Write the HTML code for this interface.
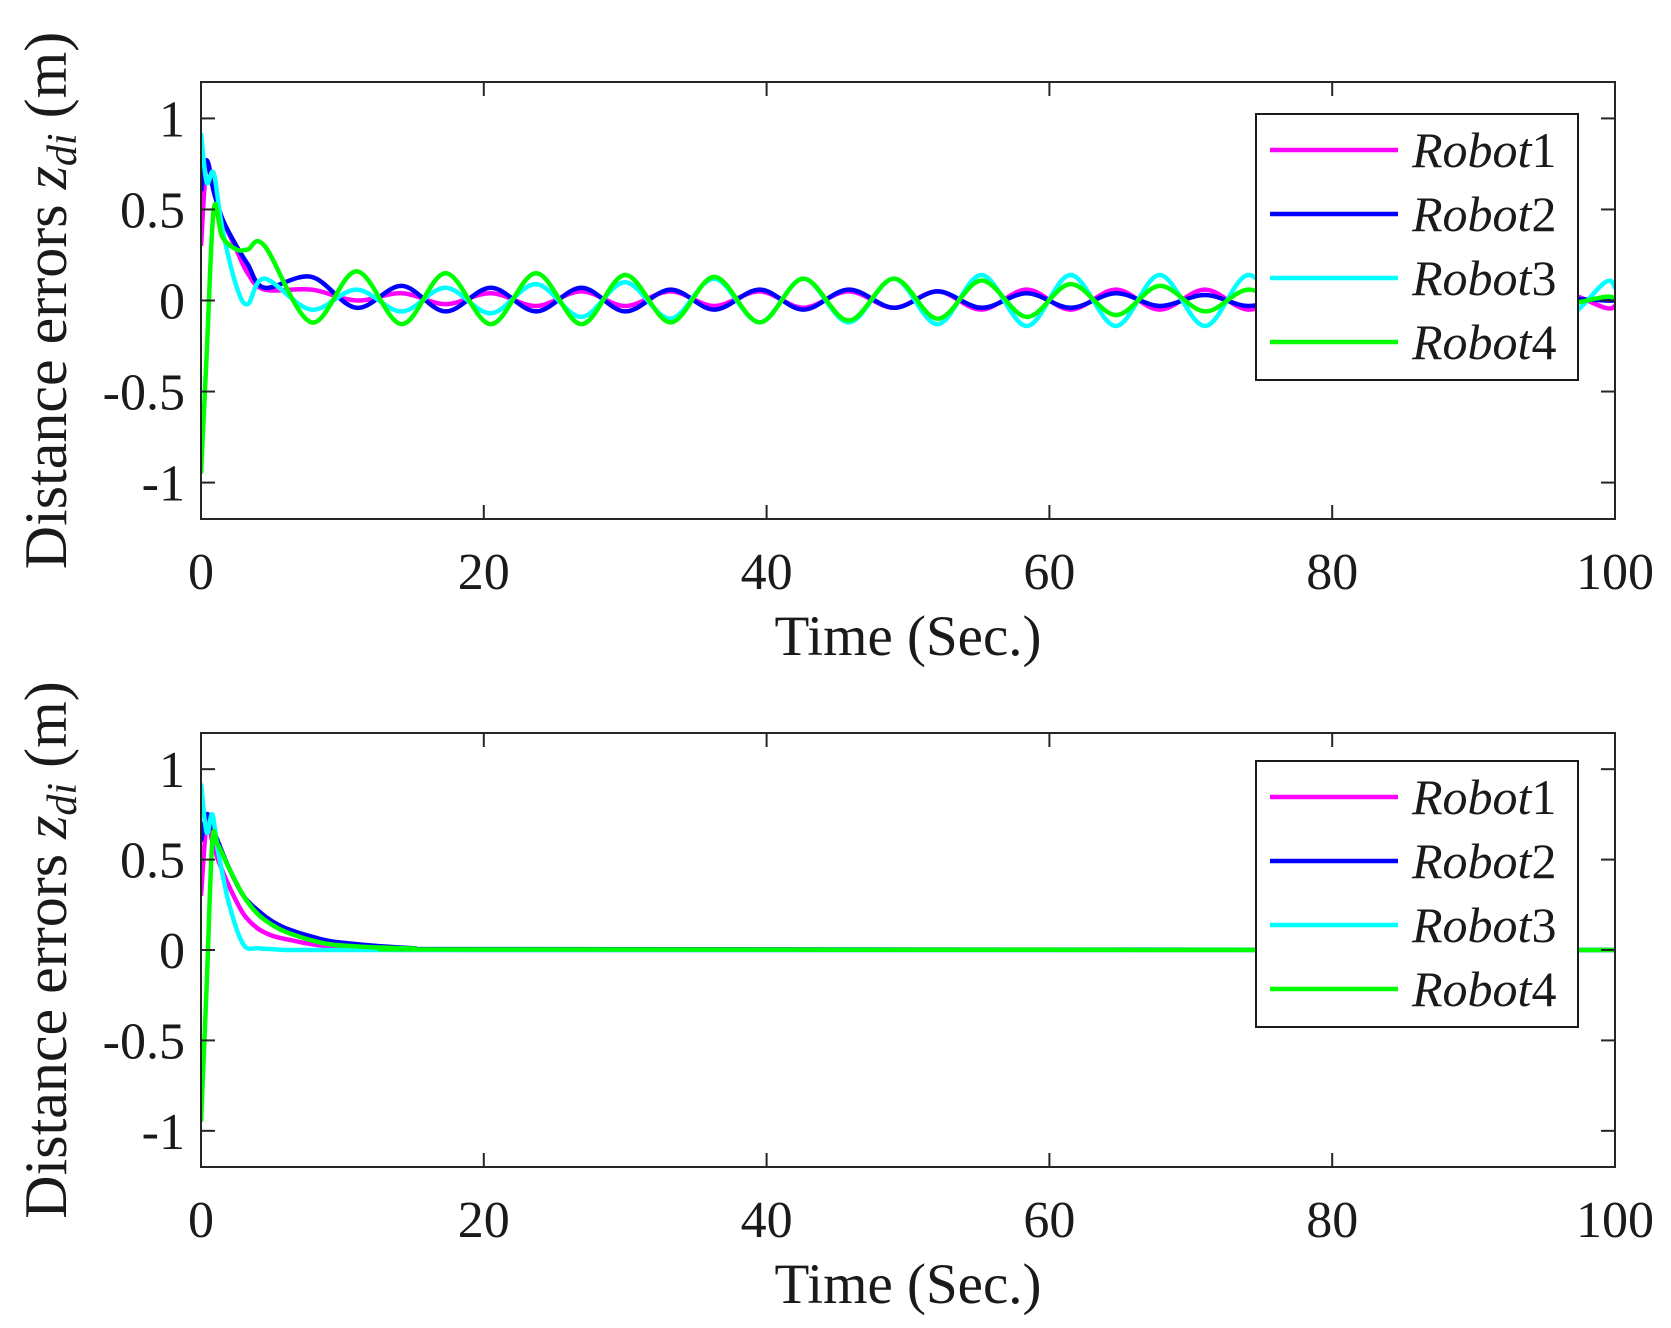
<!DOCTYPE html>
<html><head><meta charset="utf-8"><style>
body{margin:0;background:#fff}
svg{display:block}
text{font-family:"Liberation Serif",serif;fill:#1a1a1a}
</style></head><body>
<svg id="chart" width="1671" height="1328" viewBox="0 0 1671 1328"></svg>
<script>
// Shared data
const seriesNames = ["Robot1","Robot2","Robot3","Robot4"];
const seriesColors = ["#ff00ff","#0000ff","#00ffff","#00ff00"];
const xTicks = [0,20,40,60,80,100];
const yTicks = [-1,-0.5,0,0.5,1];
const yTickLabels = ["-1","-0.5","0","0.5","1"];

// Top panel: time samples (start + extrema)
const topTime = [0,0.4,0.9,1.5,2.5,3.3,4.5,7.8,11,14.2,17.3,20.5,23.7,26.9,30,33.2,36.3,39.5,42.6,45.8,49,52.1,55.2,58.4,61.5,64.7,67.8,71,74.1,77.3,80.4,83.6,86.7,89.9,93,96.2,99.3,100];
const topRobot1 = [0.3,0.75,0.6,0.45,0.28,0.15,0.06,0.06,0.0,0.04,-0.02,0.04,-0.03,0.05,-0.03,0.05,-0.03,0.05,-0.04,0.05,-0.04,0.05,-0.05,0.06,-0.05,0.06,-0.05,0.06,-0.05,0.05,-0.05,0.05,-0.05,0.05,-0.05,0.04,-0.04,-0.03];
const topRobot2 = [0.6,0.77,0.6,0.45,0.3,0.2,0.07,0.13,-0.04,0.08,-0.06,0.07,-0.06,0.07,-0.06,0.06,-0.05,0.06,-0.05,0.06,-0.04,0.05,-0.04,0.04,-0.04,0.04,-0.03,0.03,-0.03,0.03,-0.02,0.02,-0.02,0.02,-0.01,0.01,0,0];
const topRobot3 = [0.92,0.65,0.7,0.4,0.08,-0.02,0.12,-0.05,0.06,-0.06,0.07,-0.07,0.09,-0.09,0.1,-0.1,0.12,-0.12,0.12,-0.12,0.12,-0.13,0.14,-0.14,0.14,-0.14,0.14,-0.14,0.14,-0.13,0.13,-0.12,0.12,-0.11,0.11,-0.1,0.1,0.07];
const topRobot4 = [-0.95,-0.3,0.5,0.35,0.28,0.28,0.3,-0.12,0.16,-0.13,0.15,-0.13,0.15,-0.13,0.14,-0.12,0.13,-0.12,0.12,-0.11,0.12,-0.1,0.11,-0.09,0.09,-0.08,0.08,-0.06,0.06,-0.05,0.05,-0.04,0.04,-0.03,0.03,-0.02,0.02,0.01];

// Bottom panel
const botTime = [0,0.4,0.8,1.2,2,3,4,5,6,8,10,15,20,100];
const botRobot1 = [0.3,0.7,0.6,0.5,0.35,0.2,0.12,0.08,0.06,0.03,0.015,0.005,0,0];
const botRobot2 = [0.6,0.75,0.68,0.6,0.45,0.3,0.22,0.16,0.12,0.07,0.04,0.01,0.005,0];
const botRobot3 = [0.92,0.65,0.75,0.55,0.25,0.03,0.01,0.005,0,0,0,0,0,0];
const botRobot4 = [-0.95,-0.2,0.6,0.58,0.45,0.3,0.2,0.14,0.1,0.05,0.025,0.008,0.003,0];

const NS="http://www.w3.org/2000/svg";
const svg=document.getElementById('chart');
function mk(tag,attrs,parent){const e=document.createElementNS(NS,tag);for(const k in attrs)e.setAttribute(k,attrs[k]);(parent||svg).appendChild(e);return e;}

function smoothPath(pts){
  let d=`M${pts[0][0]},${pts[0][1]}`;
  for(let i=0;i<pts.length-1;i++){
    const p0=pts[Math.max(0,i-1)],p1=pts[i],p2=pts[i+1],p3=pts[Math.min(pts.length-1,i+2)];
    const c1=[p1[0]+(p2[0]-p0[0])/6,p1[1]+(p2[1]-p0[1])/6];
    const c2=[p2[0]-(p3[0]-p1[0])/6,p2[1]-(p3[1]-p1[1])/6];
    d+=` C${c1[0]},${c1[1]} ${c2[0]},${c2[1]} ${p2[0]},${p2[1]}`;
  }
  return d;
}

function panel(name,top,bottom,time,series,legTop){
  const L=201,R=1615;
  const g=mk('g',{});
  
  
  const xS=v=>L+(R-L)*v/100;
  const y0=(top+bottom)/2, k=(bottom-top)/2.4;
  const yS=v=>y0-v*k;
  const clipId=name+'-clip';
  const cp=mk('clipPath',{id:clipId},g);mk('rect',{x:L,y:top,width:R-L,height:bottom-top},cp);
  const lines=mk('g',{'clip-path':`url(#${clipId})`},g);
  series.forEach((vals,i)=>{
    const pts=time.map((t,j)=>[xS(t),yS(vals[j])]);
    const p=mk('path',{d:smoothPath(pts),fill:'none',stroke:seriesColors[i],'stroke-width':4.5,'stroke-linejoin':'round'},lines);
    
    
  });
  const ax=mk('rect',{x:L,y:top,width:R-L,height:bottom-top,fill:'none',stroke:'#262626','stroke-width':2},g);
  
  
  xTicks.forEach(v=>{
    const x=xS(v);
    mk('line',{x1:x,y1:bottom,x2:x,y2:bottom-14,stroke:'#262626','stroke-width':2},g);
    mk('line',{x1:x,y1:top,x2:x,y2:top+14,stroke:'#262626','stroke-width':2},g);
    const t=mk('text',{x:x,y:bottom+70,'font-size':52,'text-anchor':'middle'},g);t.textContent=v;
    
    
  });
  yTicks.forEach((v,i)=>{
    const y=yS(v);
    mk('line',{x1:L,y1:y,x2:L+14,y2:y,stroke:'#262626','stroke-width':2},g);
    mk('line',{x1:R,y1:y,x2:R-14,y2:y,stroke:'#262626','stroke-width':2},g);
    const t=mk('text',{x:L-16,y:y+18,'font-size':52,'text-anchor':'end'},g);t.textContent=yTickLabels[i];
    
    
  });
  const xl=mk('text',{x:(L+R)/2,y:bottom+136,'font-size':57,'text-anchor':'middle'},g);xl.textContent='Time (Sec.)';
  
  
  const yl=mk('text',{transform:`translate(66,${y0}) rotate(-90)`,'font-size':60,'text-anchor':'middle'},g);
  yl.innerHTML='Distance errors <tspan font-style="italic">z</tspan><tspan font-style="italic" font-size="42" dy="10">di</tspan><tspan dy="-10">  (m)</tspan>';
  
  
  // legend
  const lg=mk('g',{},g);
  
  
  mk('rect',{x:1256,y:legTop,width:322,height:266,fill:'#fff',stroke:'#1a1a1a','stroke-width':2},lg);
  seriesNames.forEach((n,i)=>{
    const y=legTop+36+i*64;
    const e=mk('g',{},lg);
    
    
    mk('line',{x1:1270,y1:y,x2:1398,y2:y,stroke:seriesColors[i],'stroke-width':4.5},e);
    const t=mk('text',{x:1412,y:y+17,'font-size':50},e);
    t.innerHTML='<tspan font-style="italic">'+n.slice(0,5)+'</tspan>'+n.slice(5);
  });
}
panel('top-panel',82,519,topTime,[topRobot1,topRobot2,topRobot3,topRobot4],114);
panel('bottom-panel',733,1167,botTime,[botRobot1,botRobot2,botRobot3,botRobot4],761);
</script>
</body></html>
